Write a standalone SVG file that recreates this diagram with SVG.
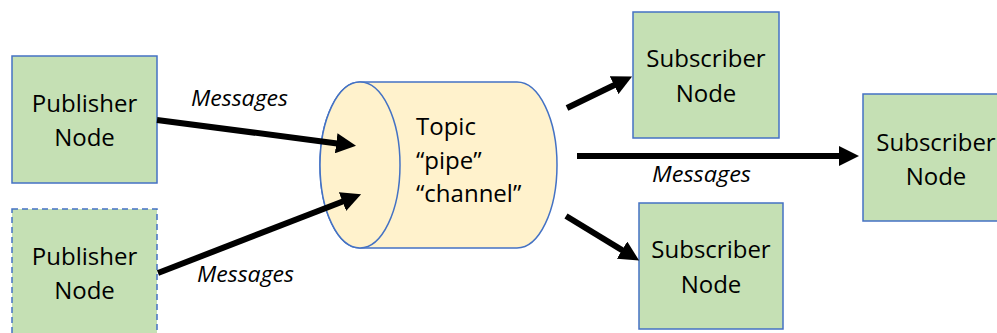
<svg xmlns="http://www.w3.org/2000/svg" width="997" height="333" viewBox="0 0 997 333">
  <style>
    .node { fill: #C5E0B4; stroke: #4472C4; stroke-width: 1.5; }
    .dashed { stroke-dasharray: 6 4; }
    .label { font-family: "Open Sans", "Liberation Sans", sans-serif; font-size: 24px; fill: #000; text-anchor: middle; }
    .msg { font-family: "Open Sans", "Liberation Sans", sans-serif; font-size: 22px; font-style: italic; fill: #000; }
    .topic { fill: #FFF2CC; stroke: #4472C4; stroke-width: 1.5; }
    .arrow { stroke: #000; stroke-width: 6; fill: none; marker-end: url(#head); }
  </style>
  <defs>
    <marker id="head" markerUnits="userSpaceOnUse" viewBox="0 0 20 20" markerWidth="20" markerHeight="20" refX="1" refY="10" orient="auto">
      <path d="M0,0 L20,10 L0,20 z" fill="#000"/>
    </marker>
  </defs>
  <rect width="997" height="333" fill="#fff"/>

  <!-- publishers -->
  <g id="publisher1">
    <rect class="node" x="12" y="56" width="145" height="127"/>
    <text class="label" x="84.5" y="112">Publisher</text>
    <text class="label" x="84.5" y="146">Node</text>
  </g>
  <g id="publisher2">
    <rect class="node dashed" x="12" y="209" width="145" height="127"/>
    <text class="label" x="84.5" y="265">Publisher</text>
    <text class="label" x="84.5" y="299">Node</text>
  </g>

  <!-- topic cylinder -->
  <g id="topic">
    <path class="topic" d="M360,82 L517,82 A40,83 0 0 1 517,248 L360,248 A40,83 0 0 1 360,82 z"/>
    <ellipse class="topic" cx="360" cy="165" rx="40" ry="83"/>
    <text class="label" style="text-anchor:start" x="416" y="135">Topic</text>
    <text class="label" style="text-anchor:start" x="416" y="169">“pipe”</text>
    <text class="label" style="text-anchor:start" x="416" y="202">“channel”</text>
  </g>

  <!-- subscribers -->
  <g id="subscriber1">
    <rect class="node" x="633" y="12" width="146" height="126"/>
    <text class="label" x="706" y="67">Subscriber</text>
    <text class="label" x="706" y="102">Node</text>
  </g>
  <g id="subscriber2">
    <rect class="node" x="639" y="203" width="144" height="126"/>
    <text class="label" x="711" y="258">Subscriber</text>
    <text class="label" x="711" y="293">Node</text>
  </g>
  <g id="subscriber3">
    <rect class="node" x="863" y="94" width="150" height="127"/>
    <text class="label" x="936" y="151">Subscriber</text>
    <text class="label" x="936" y="185">Node</text>
  </g>

  <!-- connectors -->
  <g id="connectors">
    <line class="arrow" x1="157" y1="120" x2="337.2" y2="143.4"/>
    <line class="arrow" x1="158" y1="273" x2="343.4" y2="201.2"/>
    <line class="arrow" x1="567" y1="108" x2="615" y2="84.7"/>
    <line class="arrow" x1="577" y1="156" x2="840" y2="156"/>
    <line class="arrow" x1="566" y1="216" x2="622.9" y2="250.6"/>
    <text class="msg" x="191" y="106" textLength="97" lengthAdjust="spacingAndGlyphs">Messages</text>
    <text class="msg" x="197" y="282" textLength="97" lengthAdjust="spacingAndGlyphs">Messages</text>
    <text class="msg" x="652" y="182" textLength="99" lengthAdjust="spacingAndGlyphs">Messages</text>
  </g>
</svg>
